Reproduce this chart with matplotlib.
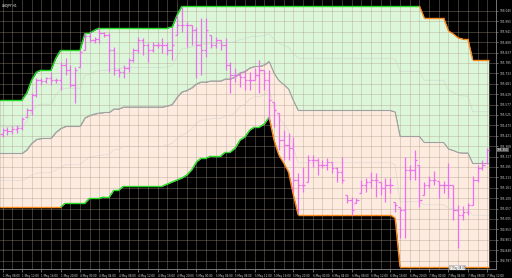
import numpy as np
import matplotlib.pyplot as plt

# USDJPY H1 bars (open, high, low, close)
opens = [105.430, 105.450, 105.445, 105.455, 105.460, 105.515, 105.550, 105.625, 105.700, 105.695,
         105.710, 105.700, 105.700, 105.775, 105.750, 105.675, 105.765, 105.850, 105.920, 105.900,
         105.905, 105.935, 105.925, 105.850, 105.750, 105.740, 105.760, 105.800, 105.850, 105.900,
         105.875, 105.850, 105.875, 105.875, 105.875, 105.850, 105.925, 105.975, 105.975, 105.975,
         105.950, 105.875, 105.850, 105.925, 105.875, 105.900, 105.875, 105.775, 105.725, 105.725,
         105.715, 105.700, 105.700, 105.725, 105.750, 105.700, 105.590, 105.535, 105.400, 105.375,
         105.360, 105.200, 105.175, 105.190, 105.300, 105.300, 105.275, 105.275, 105.290, 105.260,
         105.240, 105.125, 105.100, 105.085, 105.135, 105.175, 105.190, 105.200, 105.190, 105.160,
         105.175, 105.090, 105.065, 105.050, 105.250, 105.250, 105.275, 105.125, 105.175, 105.200,
         105.195, 105.175, 105.175, 105.175, 105.050, 105.025, 105.040, 105.075, 105.200, 105.260,
         105.285]
highs = [105.460, 105.465, 105.470, 105.475, 105.515, 105.560, 105.635, 105.710, 105.710, 105.715,
         105.740, 105.710, 105.790, 105.810, 105.775, 105.765, 105.850, 105.935, 105.940, 105.915,
         105.960, 105.940, 105.935, 105.865, 105.760, 105.775, 105.810, 105.860, 105.915, 105.910,
         105.885, 105.890, 105.890, 105.910, 105.890, 105.965, 106.025, 106.065, 105.990, 105.975,
         105.965, 106.010, 106.010, 105.925, 105.915, 105.900, 105.910, 105.790, 105.760, 105.740,
         105.750, 105.740, 105.760, 105.800, 105.750, 105.750, 105.590, 105.535, 105.450, 105.435,
         105.415, 105.235, 105.265, 105.325, 105.325, 105.310, 105.300, 105.310, 105.290, 105.265,
         105.315, 105.125, 105.115, 105.110, 105.200, 105.210, 105.240, 105.235, 105.190, 105.210,
         105.210, 105.090, 105.065, 105.315, 105.275, 105.350, 105.275, 105.190, 105.220, 105.245,
         105.195, 105.195, 105.285, 105.175, 105.075, 105.070, 105.085, 105.220, 105.275, 105.300,
         105.360]
lows = [105.415, 105.425, 105.430, 105.435, 105.450, 105.515, 105.525, 105.615, 105.675, 105.685,
        105.675, 105.685, 105.650, 105.725, 105.665, 105.585, 105.765, 105.850, 105.890, 105.885,
        105.885, 105.915, 105.740, 105.725, 105.715, 105.710, 105.740, 105.790, 105.835, 105.825,
        105.790, 105.840, 105.860, 105.835, 105.825, 105.800, 105.925, 105.940, 105.865, 105.875,
        105.710, 105.725, 105.815, 105.860, 105.860, 105.850, 105.750, 105.635, 105.690, 105.665,
        105.650, 105.650, 105.700, 105.635, 105.650, 105.500, 105.465, 105.350, 105.300, 105.300,
        105.140, 105.035, 105.140, 105.190, 105.265, 105.225, 105.260, 105.250, 105.235, 105.190,
        105.185, 105.085, 105.025, 105.085, 105.135, 105.140, 105.160, 105.115, 105.125, 105.090,
        105.135, 105.040, 104.910, 104.910, 105.200, 105.200, 105.065, 105.125, 105.160, 105.175,
        105.110, 105.135, 105.110, 105.000, 104.860, 105.000, 105.025, 105.075, 105.190, 105.250,
        105.285]
closes = [105.450, 105.445, 105.455, 105.460, 105.505, 105.550, 105.625, 105.700, 105.695, 105.710,
          105.700, 105.700, 105.775, 105.750, 105.675, 105.750, 105.840, 105.920, 105.900, 105.905,
          105.935, 105.925, 105.850, 105.750, 105.740, 105.760, 105.800, 105.850, 105.900, 105.875,
          105.850, 105.875, 105.875, 105.875, 105.850, 105.875, 105.975, 105.975, 105.975, 105.950,
          105.875, 105.850, 105.950, 105.875, 105.900, 105.875, 105.775, 105.725, 105.725, 105.715,
          105.700, 105.700, 105.725, 105.750, 105.700, 105.600, 105.550, 105.400, 105.375, 105.360,
          105.200, 105.175, 105.175, 105.300, 105.300, 105.275, 105.275, 105.290, 105.260, 105.240,
          105.200, 105.100, 105.050, 105.100, 105.175, 105.190, 105.200, 105.200, 105.160, 105.175,
          105.175, 105.075, 105.050, 105.250, 105.250, 105.300, 105.100, 105.175, 105.200, 105.200,
          105.175, 105.175, 105.175, 105.050, 105.025, 105.040, 105.075, 105.200, 105.260, 105.275,
          105.350]

# channel borders
upper = ([105.600] * 5 + [105.635, 105.700, 105.740] + [105.750] * 3 + [105.810] + [105.850] * 5
         + [105.935] * 2 + [105.950] + [105.960] * 15 + [105.965, 106.025] + [106.070] * 50
         + [106.010] * 5 + [105.945, 105.930, 105.910, 105.905, 105.905] + [105.800] * 4)
lower = ([105.065] * 13 + [105.085] * 5 + [105.110] * 3 + [105.115] * 2 + [105.150] * 2
         + [105.170] * 9 + [105.180, 105.190, 105.200, 105.210, 105.225, 105.250, 105.290]
         + [105.310] * 2 + [105.320] * 3 + [105.340] * 2
         + [105.360, 105.400, 105.415, 105.450, 105.465, 105.465, 105.480, 105.515,
            105.400, 105.325, 105.285, 105.240, 105.125] + [105.025] * 20 + [105.010] + [104.765] * 19)

price_ticks = [106.045, 105.993, 105.941, 105.889, 105.837, 105.785, 105.733, 105.681, 105.629,
               105.577, 105.525, 105.473, 105.421, 105.369, 105.317, 105.265, 105.213, 105.161,
               105.109, 105.057, 105.005, 104.953, 104.901, 104.849, 104.797]
time_labels = ["1 May 08:00", "1 May 12:00", "1 May 16:00", "1 May 20:00",
               "4 May 00:00", "4 May 04:00", "4 May 08:00", "4 May 12:00", "4 May 16:00", "4 May 20:00",
               "5 May 00:00", "5 May 04:00", "5 May 08:00", "5 May 12:00", "5 May 16:00", "5 May 20:00",
               "6 May 00:00", "6 May 04:00", "6 May 08:00", "6 May 12:00", "6 May 16:00", "6 May 20:00",
               "7 May 00:00", "7 May 04:00", "7 May 08:00", "7 May 12:00"]

x = np.arange(len(closes))
up = np.array(upper)
lo = np.array(lower)

fig = plt.figure(figsize=(5.12, 2.78), dpi=100, facecolor='black')
ax = fig.add_axes([0, 9 / 278, 496 / 512, 269 / 278])
ax.set_facecolor('black')

# fills (stretched a little past the first/last bar)
xf = np.r_[-0.6, x, x[-1] + 0.3]
upf = np.r_[up[0], up, up[-1]]
lof = np.r_[lo[0], lo, lo[-1]]
midf = (upf + lof) / 2
ax.fill_between(xf, midf, upf, color='#dcf6da', lw=0, zorder=1)
ax.fill_between(xf, lof, midf, color='#fdebe0', lw=0, zorder=1)

ax.plot(xf, midf, color='#a0a0a0', lw=0.8, zorder=2)
ax.plot(xf, (upf + midf) / 2, color='#c4c4c4', lw=0.5, alpha=0.5, zorder=2)
ax.plot(xf, (lof + midf) / 2, color='#c4c4c4', lw=0.5, alpha=0.5, zorder=2)


def band(vals, first):
    col = first
    for i in range(len(vals) - 1):
        d = vals[i + 1] - vals[i]
        if d > 0:
            col = '#22dd22'
        elif d < 0:
            col = '#ff8c1a'
        ax.plot(xf[i:i + 2], vals[i:i + 2], color=col, lw=1.0, zorder=3,
                solid_capstyle='butt')


band(upf, '#22dd22')
band(lof, '#ff8c1a')

# bars
bar_col = '#ec6fec'
ax.vlines(x, lows, highs, color=bar_col, lw=0.9, zorder=4)
ax.hlines(opens, x - 0.45, x, color=bar_col, lw=0.9, zorder=4)
ax.hlines(closes, x, x + 0.45, color=bar_col, lw=0.9, zorder=4)

ax.set_xlim(-0.52, 101.8)
ax.set_ylim(104.755, 106.100)

# grid
ax.set_axisbelow('line')
ax.set_xticks(x[::4])
ax.set_xticks(x[2::4], minor=True)
ax.set_xticklabels(time_labels, fontsize=2.0, color='#d0d0d0', ha='left')
ax.set_yticks(price_ticks)
ax.set_yticklabels(['%.3f' % v for v in price_ticks], fontsize=2.1, color='#d0d0d0')
ax.yaxis.tick_right()
ax.grid(True, which='both', color='#aa9b87', alpha=0.42, lw=0.6)
ax.tick_params(axis='x', which='major', length=2.5, width=0.5, color='#909090', pad=1)
ax.tick_params(axis='x', which='minor', length=0)
ax.tick_params(axis='y', length=1.5, width=0.5, color='#909090', pad=0.8)
for s in ['left', 'top']:
    ax.spines[s].set_visible(False)
for s in ['right', 'bottom']:
    ax.spines[s].set_color('#8a8a8a')
    ax.spines[s].set_linewidth(0.6)

ax.text(0.004, 0.985, 'USDJPY,H1', transform=ax.transAxes, fontsize=2.2, color='white',
        ha='left', va='top')
ax.text(1.002, closes[-1], '%.3f' % closes[-1], transform=ax.get_yaxis_transform(),
        fontsize=2.1, color='white', ha='left', va='center', clip_on=False,
        bbox=dict(boxstyle='square,pad=0.15', fc='#505050', ec='none'))
ax.text(93.8, 104.762, time_labels[-2], fontsize=1.8, color='#202020', ha='center',
        va='center', bbox=dict(boxstyle='round,pad=0.15', fc='white', ec='#808080', lw=0.3))

fig.savefig('out.png', dpi=100, facecolor='black')
